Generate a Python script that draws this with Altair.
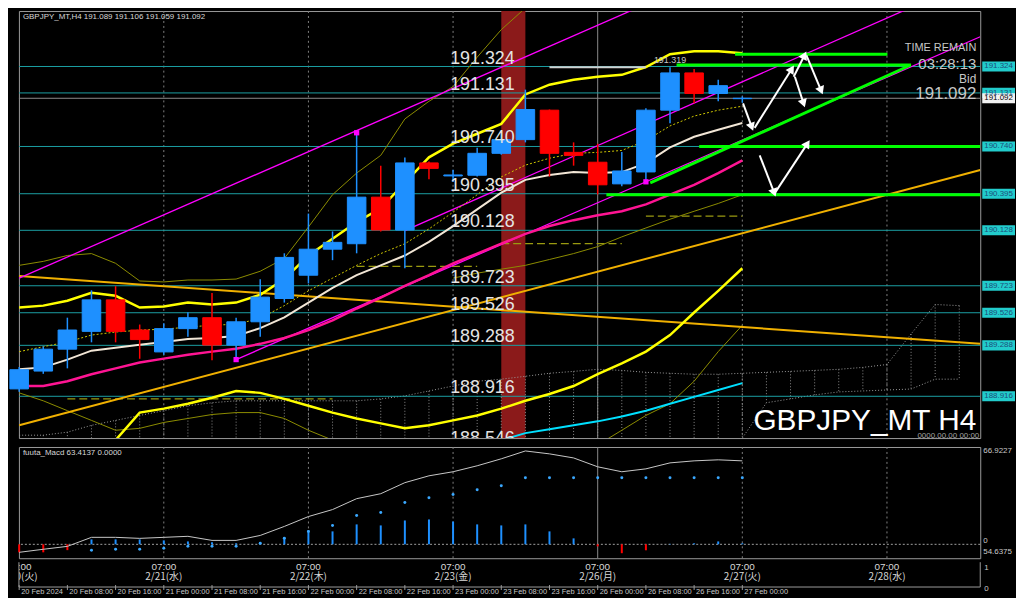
import math
import altair as alt
import pandas as pd

W, HM, HD, HA = 968, 430, 112, 33
XDOM = [-0.01, 39.87]
YDOM = [188.611, 191.729]
MDOM = [-9.56, 66.92]
FONT = "Liberation Sans"
JFONT = "Noto Sans CJK JP"
BG = "#000000"
BLUE = "#1e90ff"
RED = "#ff0000"
TEAL = "#1b9fa3"
GRAY = "#9a9a9a"

# ---------------- data ----------------
bars = list(range(31))
opens = [188.97, 189.10, 189.26, 189.39, 189.62, 189.40, 189.24, 189.41, 189.49, 189.29,
         189.46, 189.63, 189.80, 189.99, 190.03, 190.37, 190.13, 190.62, 190.525, 190.53,
         190.69, 190.79, 191.005, 190.697, 190.625, 190.467, 190.554, 191.005, 191.277, 191.127, 191.089]
highs = [189.13, 189.28, 189.49, 189.69, 189.72, 189.44, 189.45, 189.53, 189.67, 189.49,
         189.77, 189.96, 190.25, 190.12, 190.84, 190.60, 190.66, 190.63, 190.57, 190.73,
         190.84, 191.155, 191.01, 190.77, 190.76, 190.70, 191.02, 191.319, 191.306, 191.227, 191.106]
lows = [188.95, 189.08, 189.12, 189.31, 189.31, 189.19, 189.22, 189.35, 189.18, 189.18,
        189.35, 189.60, 189.74, 189.91, 189.96, 190.12, 189.85, 190.50, 190.48, 190.52,
        190.68, 190.77, 190.52, 190.60, 190.39, 190.45, 190.48, 190.91, 191.055, 191.07, 191.059]
closes = [189.11, 189.26, 189.40, 189.62, 189.39, 189.33, 189.41, 189.49, 189.29, 189.46,
          189.64, 189.93, 189.99, 190.04, 190.37, 190.13, 190.62, 190.58, 190.532, 190.69,
          190.79, 191.01, 190.69, 190.675, 190.46, 190.561, 191.005, 191.277, 191.127, 191.184, 191.092]

ma_yellow_upper = [189.564, 189.578, 189.614, 189.672, 189.650, 189.564, 189.571, 189.600, 189.586, 189.600,
                   189.657, 189.772, 189.944, 190.066, 190.188, 190.288, 190.475, 190.661, 190.761, 190.833,
                   190.905, 191.120, 191.191, 191.227, 191.249, 191.263, 191.320, 191.414, 191.435, 191.435, 191.421]
ma_yellow_lower_bars = list(range(3, 31))
ma_yellow_lower = [188.381, 188.596, 188.797, 188.826, 188.862, 188.905, 188.955, 188.941, 188.897, 188.847,
                   188.797, 188.754, 188.718, 188.682, 188.704, 188.740, 188.776, 188.826, 188.883, 188.933,
                   188.991, 189.077, 189.156, 189.242, 189.363, 189.528, 189.686, 189.851]
ma_pink = [188.991, 188.991, 189.026, 189.077, 189.120, 189.163, 189.191, 189.220, 189.242, 189.263,
           189.299, 189.342, 189.399, 189.471, 189.557, 189.636, 189.722, 189.801, 189.887, 189.958,
           190.030, 190.102, 190.159, 190.202, 190.238, 190.267, 190.317, 190.388, 190.460, 190.546, 190.639]
ma_white = [189.113, 189.127, 189.184, 189.249, 189.270, 189.292, 189.313, 189.335, 189.342, 189.356,
            189.414, 189.492, 189.600, 189.708, 189.801, 189.872, 189.944, 190.044, 190.159, 190.281,
            190.403, 190.496, 190.532, 190.553, 190.546, 190.553, 190.618, 190.733, 190.811, 190.862, 190.912]
ma_dotted = [189.242, 189.278, 189.313, 189.363, 189.385, 189.399, 189.406, 189.421, 189.435, 189.442,
             189.485, 189.578, 189.686, 189.779, 189.872, 189.958, 190.030, 190.138, 190.260, 190.388,
             190.518, 190.604, 190.654, 190.690, 190.697, 190.711, 190.783, 190.890, 190.962, 191.005, 191.034]
cyan_bars = list(range(19, 31))
cyan_line = [188.561, 188.596, 188.647, 188.675, 188.704, 188.733, 188.768, 188.811, 188.862, 188.912, 188.962, 189.012]
olive_upper_bars = list(range(0, 23))
olive_upper = [189.872, 189.901, 189.944, 189.958, 189.887, 189.758, 189.751, 189.765, 189.765, 189.772,
               189.829, 189.923, 190.152, 190.388, 190.546, 190.675, 190.941, 191.070, 191.177, 191.392,
               191.593, 191.751, 191.822]
olive_lower_a_bars = list(range(0, 14))
olive_lower_a = [188.941, 188.883, 188.811, 188.740, 188.668, 188.682, 188.725, 188.754, 188.783, 188.797,
                 188.797, 188.754, 188.668, 188.596]
olive_lower_b_bars = list(range(24, 31))
olive_lower_b = [188.561, 188.668, 188.776, 188.862, 189.026, 189.242, 189.435]
olive_mid_bars = list(range(18, 31))
olive_mid = [189.779, 189.815, 189.844, 189.872, 189.915, 189.958, 190.009, 190.080, 190.145, 190.209,
             190.267, 190.324, 190.388]
kijun_start = [2, 14, 20, 26]
kijun_end = [13, 19, 25, 30]
kijun_val = [188.897, 189.865, 190.030, 190.231]

cloud_bars = list(range(0, 40))
span_a = [188.632, 188.632, 188.654, 188.704, 188.740, 188.776, 188.811, 188.847, 188.869, 188.883,
          188.883, 188.883, 188.883, 188.883, 188.883, 188.897, 188.919, 188.955, 188.991, 189.026,
          189.041, 189.062, 189.084, 189.098, 189.113, 189.105, 189.091, 189.084, 189.077, 189.077,
          189.084, 189.091, 189.098, 189.105, 189.113, 189.127, 189.148, 189.371, 189.586, 189.578]
span_b_bars = list(range(29, 40))
span_b = [188.453, 188.611, 188.869, 188.897, 188.926, 188.948, 188.955, 188.962, 188.969, 189.041, 189.041]

levels = [191.324, 191.131, 190.740, 190.395, 190.128, 189.723, 189.526, 189.288, 188.916, 188.546]
bid = 191.092
axis_ticks = [191.715, 191.535, 190.990, 190.805, 190.625, 190.445, 190.260, 190.080,
              189.895, 189.350, 189.170, 188.985, 188.805, 188.625]

# trend lines: start bar, end bar, start price, end price
trend_x1 = [0, 0, 0, 9, 16]
trend_x2 = [39.87, 39.87, 30, 39.87, 39.87]
trend_y1 = [189.794, 188.704, 189.779, 189.184, 190.126]
trend_y2 = [189.299, 190.568, 192.087, 191.541, 191.978]
trend_kind = ["gold", "gold", "mag", "mag", "mag"]

green_x1 = [29.70, 27.27, 26.18, 28.21, 24.36]
green_x2 = [36.02, 37.00, 36.99, 39.87, 39.87]
green_y1 = [191.414, 191.335, 190.474, 190.740, 190.388]
green_y2 = [191.414, 191.335, 191.335, 190.740, 190.388]

arrow_x1 = [30.03, 30.51, 32.18, 32.13, 32.66, 30.72, 31.36]
arrow_y1 = [191.055, 190.876, 191.249, 191.249, 191.406, 190.675, 190.403]
arrow_x2 = [30.39, 32.05, 32.54, 32.58, 33.27, 31.32, 32.70]
arrow_y2 = [190.883, 191.306, 191.055, 191.406, 191.148, 190.403, 190.761]

fractal_bars = [9, 14, 26]
fractal_price = [189.184, 190.840, 190.482]

band_bar = [20, 21]
high_line = [22, 26, 191.319]
separators = [6, 12, 18, 24, 30, 36]

macd_line = [-5.5, -3.4, -1.4, 4.8, 4.8, 4.1, 4.8, 5.5, 2.7, 2.7, 6.1, 12.3, 19.1, 23.9, 31.4, 34.8,
             42.4, 47.1, 49.9, 54.0, 58.8, 64.2, 62.2, 59.4, 53.3, 49.9, 51.9, 56.0, 57.4, 58.1, 57.4]
macd_hist = [-5.5, -5.5, -4.0, 3.4, 3.4, 3.4, 2.7, 2.0, 1.4, 0.7, 1.4, 4.8, 9.6, 8.9, 13.7, 13.0,
             16.4, 17.1, 15.7, 13.7, 13.0, 13.7, 8.9, 4.1, -1.4, -6.1, -4.1, 0.3, 0.7, 2.0, 0.7]
signal_bars = list(range(3, 31))
macd_signal = [-4.1, -3.4, -3.4, -2.7, -1.4, -1.4, -1.4, 0.7, 4.1, 8.9, 13.0, 19.8, 21.9, 28.7, 32.1,
               34.2, 37.6, 40.3, 45.8, 45.8, 45.8, 45.8, 45.8, 45.8, 45.8, 45.8, 45.8, 45.8]

day_bars = [0, 6, 12, 18, 24, 30, 36]
day_dates = ["2/20(火)", "2/21(水)", "2/22(木)", "2/23(金)", "2/26(月)", "2/27(火)", "2/28(水)"]
tick_bars = list(range(0, 31, 2))
tick_labels = ["20 Feb 2024", "20 Feb 08:00", "20 Feb 16:00", "21 Feb 00:00", "21 Feb 08:00",
               "21 Feb 16:00", "22 Feb 00:00", "22 Feb 08:00", "22 Feb 16:00", "23 Feb 00:00",
               "23 Feb 08:00", "23 Feb 16:00", "26 Feb 00:00", "26 Feb 08:00", "26 Feb 16:00",
               "27 Feb 00:00"]

# ---------------- helpers ----------------
xs = alt.Scale(domain=XDOM, nice=False, zero=False)
ys = alt.Scale(domain=YDOM, nice=False, zero=False)
ms = alt.Scale(domain=MDOM, nice=False, zero=False)


def X(f="bar"):
    return alt.X(f"{f}:Q", scale=xs, axis=None)


def Y(f="p"):
    return alt.Y(f"{f}:Q", scale=ys, axis=None)


def MY(f="v"):
    return alt.Y(f"{f}:Q", scale=ms, axis=None)


def line(xv, yv, color, width, dash=None):
    kw = dict(color=color, strokeWidth=width, clip=True)
    if dash:
        kw["strokeDash"] = dash
    return alt.Chart(pd.DataFrame({"bar": xv, "p": yv})).mark_line(**kw).encode(x=X(), y=Y())


def label(text, x, y, size, color="#d0d0d0", align="left", baseline="middle", font=FONT):
    return alt.Chart(pd.DataFrame({"t": [text]})).mark_text(
        align=align, baseline=baseline, fontSize=size, font=font, color=color
    ).encode(x=alt.value(x), y=alt.value(y), text="t:N")


one = pd.DataFrame({"a": [0]})

# ---------------- main panel ----------------
L = []
L.append(alt.Chart(pd.DataFrame({"b0": [band_bar[0]], "b1": [band_bar[1]]})).mark_rect(color="#8b1a1a").encode(
    x=X("b0"), x2="b1:Q", y=alt.value(0), y2=alt.value(HM)))

# cloud hatch
cb = dict(zip(span_b_bars, span_b))
cloud_df = pd.DataFrame({"bar": cloud_bars, "a": span_a, "b": [cb.get(i, 188.3) for i in cloud_bars]})
L.append(alt.Chart(cloud_df).mark_rule(color="#8a8a8a", strokeDash=[1, 2], clip=True).encode(
    x=X(), y=Y("a"), y2="b:Q"))
L.append(line(cloud_bars, span_a, "#9a9a9a", 1, [1, 2]))
L.append(line(span_b_bars, span_b, "#9a9a9a", 1, [1, 2]))

# separators
sep_df = pd.DataFrame({"bar": separators, "solid": [b == 24 for b in separators]})
L.append(alt.Chart(sep_df[~sep_df.solid]).mark_rule(color="#808080", strokeDash=[2, 3]).encode(x=X()))
L.append(alt.Chart(sep_df[sep_df.solid]).mark_rule(color="#8a8a8a", strokeWidth=1).encode(x=X()))

# horizontal levels with right axis
axis_y = alt.Axis(orient="right", values=axis_ticks, format=".3f", labelColor="#c8c8c8", labelFontSize=8,
                  labelFont=FONT, tickColor="#b0b0b0", tickSize=3, domainColor="#9a9a9a", title=None,
                  grid=False, labelPadding=2, labelFlush=False, labelOverlap=False)
lev_df = pd.DataFrame({"p": levels, "lab": [f"{v:.3f}" for v in levels]})
L.append(alt.Chart(lev_df).mark_rule(color=TEAL, strokeWidth=1, clip=True).encode(
    y=alt.Y("p:Q", scale=ys, axis=axis_y)))
L.append(alt.Chart(pd.DataFrame({"p": [bid]})).mark_rule(color="#8c8c8c", strokeWidth=1).encode(y=Y()))

# olive lines
L.append(line(olive_upper_bars, olive_upper, "#8c8c00", 1))
L.append(line(olive_lower_a_bars, olive_lower_a, "#8c8c00", 1))
L.append(line(olive_lower_b_bars, olive_lower_b, "#8c8c00", 1))
L.append(line(olive_mid_bars, olive_mid, "#8c8c00", 1))
kj = pd.DataFrame({"x1": kijun_start, "x2": kijun_end, "p": kijun_val})
L.append(alt.Chart(kj).mark_rule(color="#9a9a10", strokeDash=[8, 4], strokeWidth=1.2, clip=True).encode(
    x=X("x1"), x2="x2:Q", y=Y()))

# trend lines
tr = pd.DataFrame({"x1": trend_x1, "x2": trend_x2, "y1": trend_y1, "y2": trend_y2, "k": trend_kind})
L.append(alt.Chart(tr[tr.k == "gold"]).mark_rule(color="#f0b000", strokeWidth=2, clip=True).encode(
    x=X("x1"), x2="x2:Q", y=Y("y1"), y2="y2:Q"))
L.append(alt.Chart(tr[tr.k == "mag"]).mark_rule(color="#ff00ff", strokeWidth=1.3, clip=True).encode(
    x=X("x1"), x2="x2:Q", y=Y("y1"), y2="y2:Q"))

# moving averages
L.append(line(bars, ma_pink, "#ff1493", 2.5))
L.append(line(bars, ma_white, "#f2e6d6", 2))
L.append(line(bars, ma_dotted, "#d0c800", 1, [2, 2]))
L.append(line(bars, ma_yellow_upper, "#ffff00", 2.5))
L.append(line(ma_yellow_lower_bars, ma_yellow_lower, "#ffff00", 2.5))
L.append(line(cyan_bars, cyan_line, "#00e0ff", 2))

# high marker line
L.append(alt.Chart(pd.DataFrame({"x1": [high_line[0]], "x2": [high_line[1]], "p": [high_line[2]]})).mark_rule(
    color="#d0d0d0", strokeWidth=2).encode(x=X("x1"), x2="x2:Q", y=Y()))

# candles
cdf = pd.DataFrame({"bar": bars, "o": opens, "h": highs, "l": lows, "c": closes})
col = alt.condition("datum.c >= datum.o", alt.value(BLUE), alt.value(RED))
L.append(alt.Chart(cdf).mark_rule(strokeWidth=1.5).encode(x=X(), y=Y("l"), y2="h:Q", color=col))
L.append(alt.Chart(cdf).transform_calculate(x1="datum.bar - 0.385", x2="datum.bar + 0.385").mark_rect(
    strokeWidth=1).encode(x=X("x1"), x2="x2:Q", y=Y("o"), y2="c:Q", color=col, stroke=col))

# fractal dots
L.append(alt.Chart(pd.DataFrame({"bar": fractal_bars, "p": fractal_price})).mark_point(
    filled=True, size=28, color="#ff00ff", opacity=1, shape="square").encode(x=X(), y=Y()))

# green lines
gdf = pd.DataFrame({"x1": green_x1, "x2": green_x2, "y1": green_y1, "y2": green_y2})
L.append(alt.Chart(gdf).mark_rule(color="#00ff00", strokeWidth=3, clip=True).encode(
    x=X("x1"), x2="x2:Q", y=Y("y1"), y2="y2:Q"))

# white arrows
PXB = W / (XDOM[1] - XDOM[0])
PXP = HM / (YDOM[1] - YDOM[0])
adf = pd.DataFrame({"x1": arrow_x1, "x2": arrow_x2, "y1": arrow_y1, "y2": arrow_y2})
adf["ang"] = [(math.degrees(math.atan2((b - a) * PXB, (d - c) * PXP)) + 360) % 360
              for a, b, c, d in zip(adf.x1, adf.x2, adf.y1, adf.y2)]
L.append(alt.Chart(adf).mark_rule(color="white", strokeWidth=2).encode(
    x=X("x1"), x2="x2:Q", y=Y("y1"), y2="y2:Q"))
L.append(alt.Chart(adf).mark_point(shape="triangle-up", filled=True, size=90, color="white", opacity=1).encode(
    x=X("x2"), y=Y("y2"), angle=alt.Angle("ang:Q", scale=None)))

# level labels
L.append(alt.Chart(lev_df).mark_text(align="left", baseline="alphabetic", dy=-3, fontSize=18, font=FONT,
                                     color="#e4e4e4", clip=True).encode(
    x=alt.datum(17.88), y=Y(), text="lab:N"))
L.append(alt.Chart(pd.DataFrame({"p": [high_line[2]], "t": ["191.319"]})).mark_text(
    baseline="middle", dy=-7, fontSize=9, font=FONT, color="#c8c8c8").encode(
    x=alt.datum(27), y=Y(), text="t:N"))

# right side boxes
box_df = pd.DataFrame({"p": levels[:-1] + [bid], "lab": [f"{v:.3f}" for v in levels[:-1]] + [f"{bid:.3f}"],
                       "kind": ["lvl"] * (len(levels) - 1) + ["bid"]})
L.append(alt.Chart(box_df).transform_calculate(p1="datum.p - 0.037", p2="datum.p + 0.037").mark_rect().encode(
    x=alt.value(W + 2), x2=alt.value(W + 35), y=Y("p1"), y2="p2:Q",
    color=alt.condition("datum.kind == 'bid'", alt.value("#f2f2f2"), alt.value("#22cccc"))))
L.append(alt.Chart(box_df).mark_text(align="left", baseline="middle", fontSize=8, font=FONT).encode(
    x=alt.value(W + 4), y=Y(), text="lab:N",
    color=alt.condition("datum.kind == 'bid'", alt.value("#000000"), alt.value("#1d4f7a"))))

# annotations
L.append(label("GBPJPY_MT,H4  191.089 191.106 191.059 191.092", 4, 6, 8, "#d8d8d8"))
L.append(label("TIME REMAIN", W - 4, 37, 11, "#c8c8c8", "right"))
L.append(label("03:28:13", W - 4, 53, 15, "#c8c8c8", "right"))
L.append(label("Bid", W - 4, 68, 12, "#c8c8c8", "right"))
L.append(label("191.092", W - 4, 84, 17, "#c8c8c8", "right"))
L.append(label("GBPJPY_MT H4", W - 4, 422, 30, "#ffffff", "right", "alphabetic"))
L.append(label("0000.00.00 00:00", W - 1, 428, 8, "#a0a0a0", "right"))

main = alt.layer(*L).properties(width=W, height=HM)

# ---------------- MACD panel ----------------
M = []
M.append(alt.Chart(sep_df[~sep_df.solid]).mark_rule(color="#808080", strokeDash=[2, 3]).encode(x=X()))
M.append(alt.Chart(sep_df[sep_df.solid]).mark_rule(color="#8a8a8a").encode(x=X()))
M.append(alt.Chart(pd.DataFrame({"v": [0]})).mark_rule(color="#a0a0a0", strokeDash=[2, 2]).encode(y=MY()))
mdf = pd.DataFrame({"bar": bars, "v": macd_line, "hist": macd_hist})
M.append(alt.Chart(mdf).mark_rule(strokeWidth=2).encode(
    x=X(), y=MY("hist"), y2=alt.datum(0),
    color=alt.condition("datum.hist > 0", alt.value(BLUE), alt.value(RED))))
M.append(alt.Chart(mdf).mark_line(color="#c8c8c8", strokeWidth=1).encode(x=X(), y=MY()))
M.append(alt.Chart(pd.DataFrame({"bar": signal_bars, "v": macd_signal})).mark_point(
    filled=True, size=9, color="#3aa8ff", opacity=1).encode(x=X(), y=MY()))
M.append(label("fuuta_Macd 63.4137   0.0000", 4, 6, 8, "#d8d8d8"))
M.append(label("66.9227", W + 3, 4, 8, "#c8c8c8"))
M.append(alt.Chart(pd.DataFrame({"v": [0]})).mark_text(align="left", baseline="middle", dy=-3, fontSize=8,
                                                      font=FONT, color="#c8c8c8").encode(
    x=alt.value(W + 3), y=MY(), text=alt.value("0")))
M.append(label("54.6375", W + 3, 106, 8, "#c8c8c8"))
macd = alt.layer(*M).properties(width=W, height=HD)

# ---------------- time axis ----------------
A = []
A.append(alt.Chart(pd.DataFrame({"bar": day_bars, "t": ["07:00"] * len(day_bars)})).mark_text(
    fontSize=10, font=FONT, color="#d8d8d8", clip=True, baseline="middle").encode(
    x=X(), y=alt.value(5), text="t:N"))
A.append(alt.Chart(pd.DataFrame({"bar": day_bars, "t": day_dates})).mark_text(
    fontSize=10, font=JFONT, color="#d8d8d8", clip=True, baseline="middle").encode(
    x=X(), y=alt.value(15), text="t:N"))
A.append(alt.Chart(one).mark_rule(color=GRAY).encode(x=alt.value(0), x2=alt.value(W), y=alt.value(25)))
A.append(alt.Chart(one).mark_rule(color=GRAY).encode(x=alt.value(W), y=alt.value(0), y2=alt.value(25)))
A.append(alt.Chart(one).mark_rule(color=GRAY).encode(x=alt.value(0), y=alt.value(0), y2=alt.value(25)))
tdf = pd.DataFrame({"bar": tick_bars, "t": tick_labels})
A.append(alt.Chart(tdf).mark_rule(color=GRAY).encode(x=X(), y=alt.value(23), y2=alt.value(28)))
A.append(alt.Chart(tdf).mark_text(align="left", dx=2, baseline="alphabetic", fontSize=7.5, font=FONT,
                                  color="#c8c8c8").encode(x=X(), y=alt.value(32), text="t:N"))
A.append(label("1", W + 4, 6, 8, "#c8c8c8"))
A.append(label("0", W + 4, 27, 8, "#c8c8c8"))
axc = alt.layer(*A).properties(width=W, height=HA, view=alt.ViewBackground(stroke="transparent"))

chart = alt.vconcat(main, alt.vconcat(macd, axc, spacing=2), spacing=5).properties(
    background=BG, padding=0).configure_view(stroke="#9a9a9a", strokeWidth=1)

chart.save("out.html", embed_options={"renderer": "svg", "actions": False})
